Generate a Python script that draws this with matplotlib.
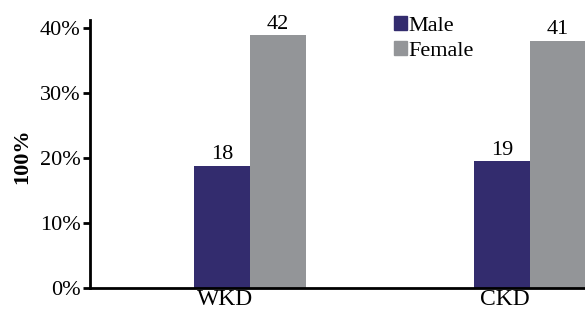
import matplotlib.pyplot as plt
import numpy as np
from matplotlib.patches import Patch

groups = ["WKD", "CKD"]
male_pct = [18.8, 19.5]
female_pct = [38.9, 38.0]
male_labels = ["18", "19"]
female_labels = ["42", "41"]

plt.rcParams["font.family"] = ["Liberation Serif", "DejaVu Serif"]

navy = "#332c6e"
grey = "#939598"

fig = plt.figure(figsize=(5.85, 3.11), dpi=100)
ax = fig.add_axes([0.154, 0.074, 0.846, 0.862])

x = np.arange(len(groups))
w = 0.2
b1 = ax.bar(x - w / 2, male_pct, w, color=navy)
b2 = ax.bar(x + w / 2, female_pct, w, color=grey)

for bars, labs in ((b1, male_labels), (b2, female_labels)):
    for r, lab in zip(bars, labs):
        ax.text(r.get_x() + r.get_width() / 2, r.get_height() + 0.2, lab,
                ha="center", va="bottom", fontsize=16)

ax.set_xlim(-0.571, 1.196)
ax.set_ylim(0, 41.2)
ax.set_yticks([0, 10, 20, 30, 40])
ax.set_yticklabels(["0%", "10%", "20%", "30%", "40%"])
# group labels in the source sit a little left of the group centre
ax.set_xticks(x - 0.09)
ax.set_xticklabels(groups)
ax.tick_params(axis="y", labelsize=16, width=2, length=5, pad=2)
ax.tick_params(axis="x", labelsize=17, length=0, pad=1)
ax.set_ylabel("100%", fontsize=16, fontweight="bold")
ax.yaxis.set_label_coords(-0.117, 0.49)

for s in ("top", "right"):
    ax.spines[s].set_visible(False)
ax.spines["left"].set_linewidth(2)
ax.spines["bottom"].set_linewidth(2)

handles = [Patch(color=navy, label="Male"), Patch(color=grey, label="Female")]
ax.legend(handles=handles, loc="upper left", bbox_to_anchor=(0.614, 1.015),
          frameon=False, fontsize=16, handlelength=0.6, handleheight=0.6,
          handletextpad=0.05, labelspacing=0.25, borderaxespad=0,
          borderpad=0)

fig.savefig("out.png", dpi=100)
